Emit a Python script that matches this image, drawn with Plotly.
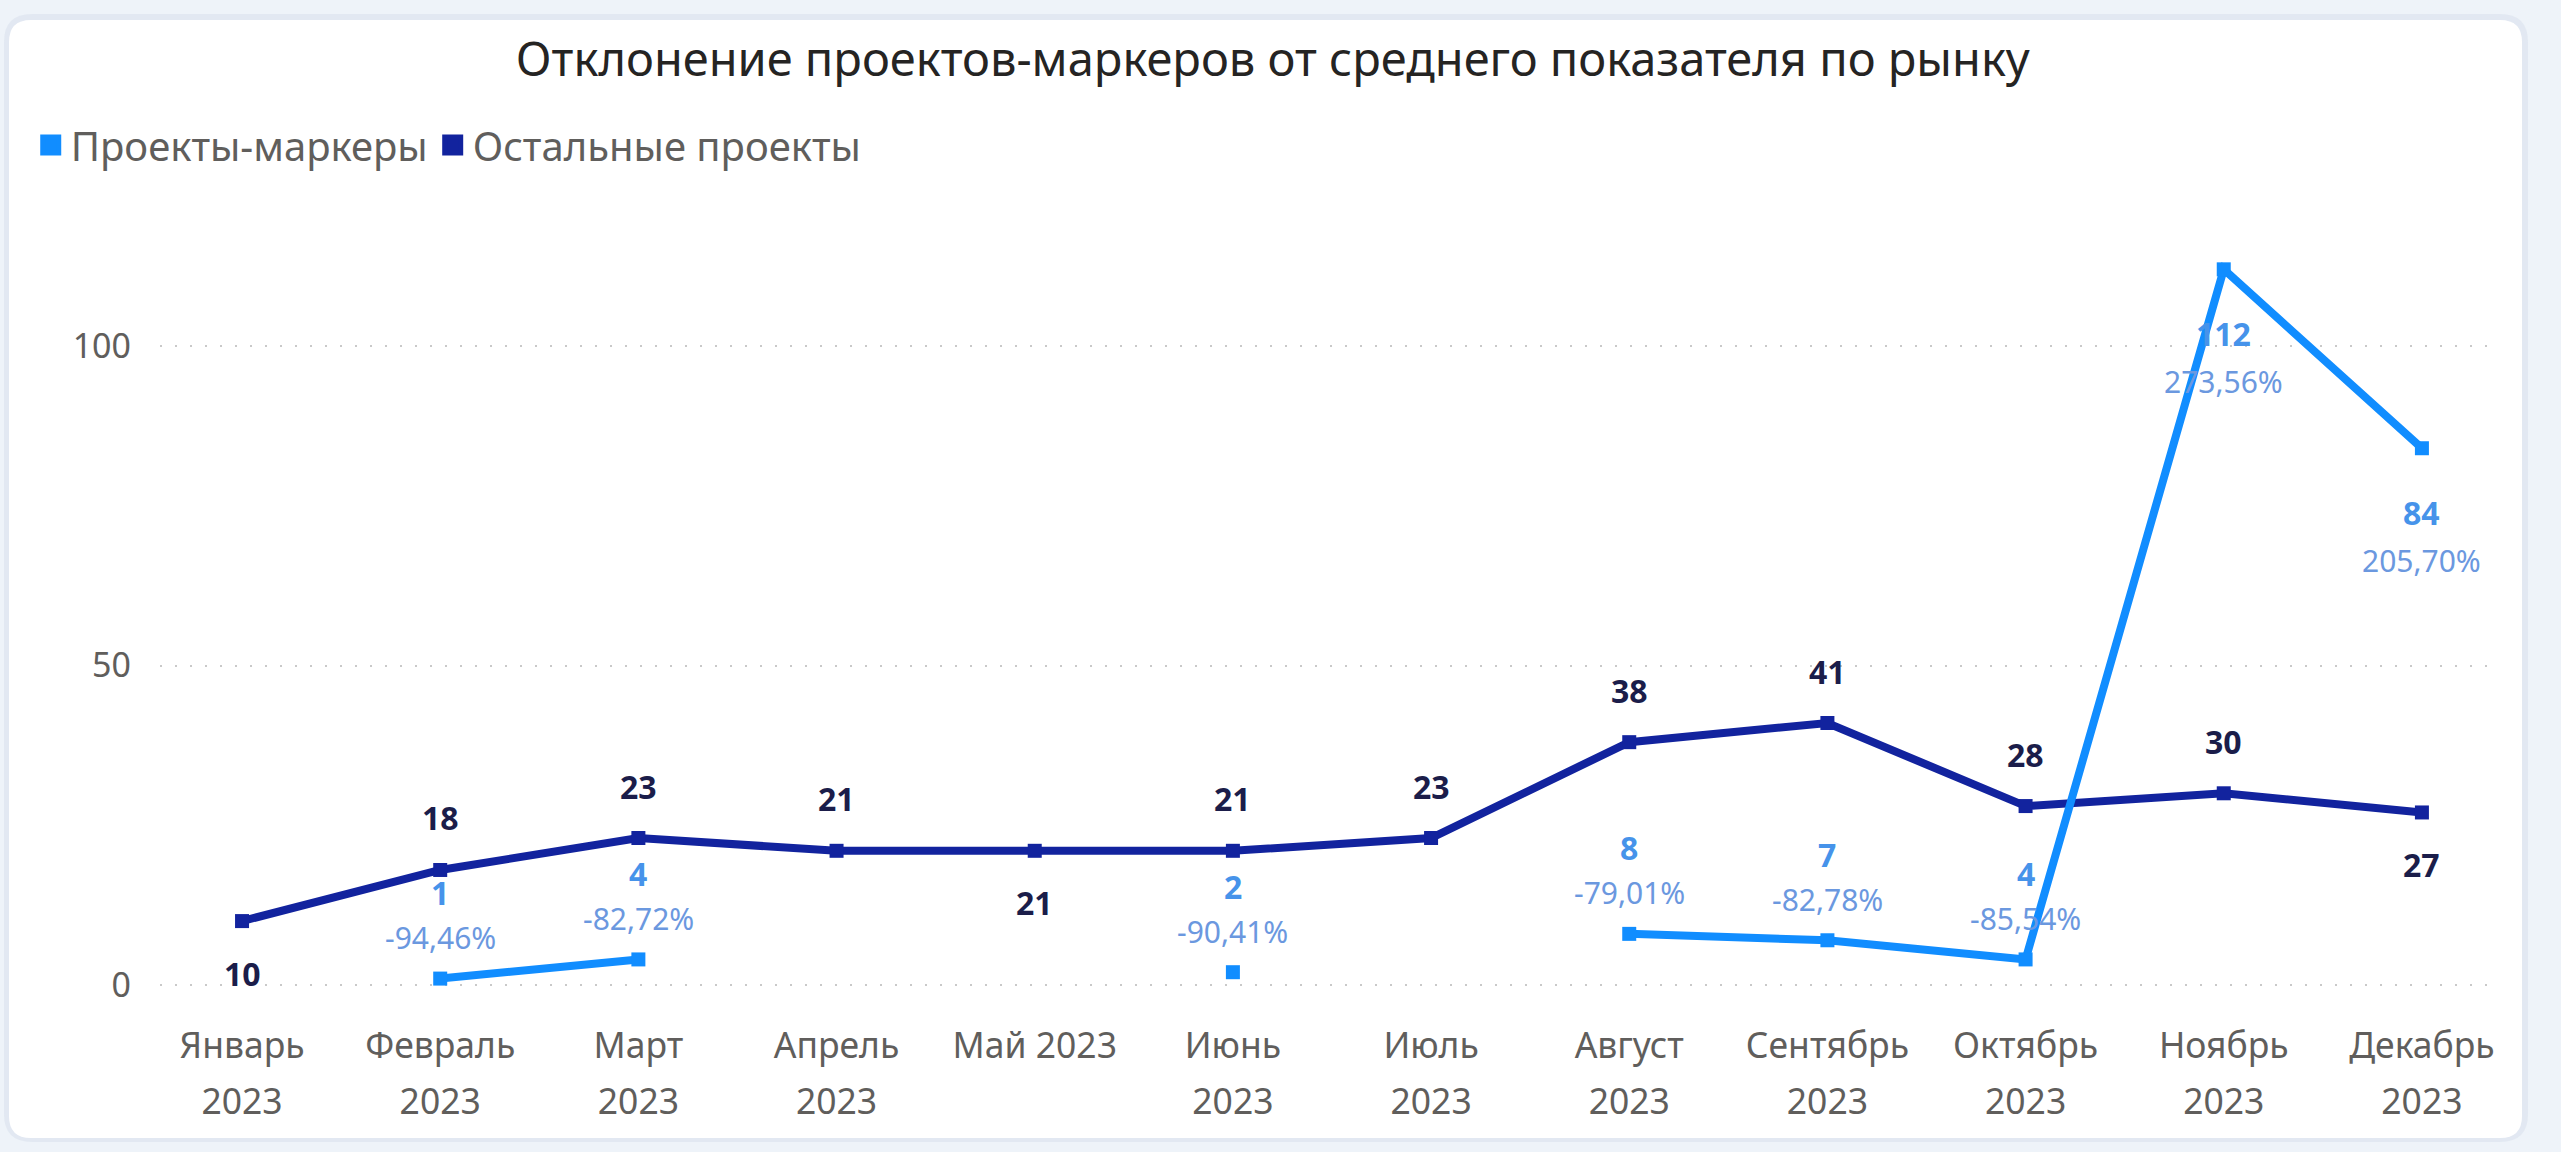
import plotly.graph_objects as go

# --- data -------------------------------------------------------------------
periods = ["Январь 2023", "Февраль 2023", "Март 2023", "Апрель 2023", "Май 2023",
           "Июнь 2023", "Июль 2023", "Август 2023", "Сентябрь 2023", "Октябрь 2023",
           "Ноябрь 2023", "Декабрь 2023"]
month_labels = ["Январь", "Февраль", "Март", "Апрель", "Май 2023", "Июнь", "Июль",
                "Август", "Сентябрь", "Октябрь", "Ноябрь", "Декабрь"]
year_labels = ["2023", "2023", "2023", "2023", "", "2023", "2023",
               "2023", "2023", "2023", "2023", "2023"]

marker_projects = [None, 1, 4, None, None, 2, None, 8, 7, 4, 112, 84]
marker_deviation_pct = [None, -94.46, -82.72, None, None, -90.41, None,
                        -79.01, -82.78, -85.54, 273.56, 205.70]
other_projects = [10, 18, 23, 21, 21, 21, 23, 38, 41, 28, 30, 27]

y_ticks = [0, 50, 100]

# label placement relative to each point
other_label_side = ["below", "above", "above", "above", "below", "above",
                    "above", "above", "above", "above", "above", "below"]
marker_label_side = [None, "above", "above", None, None, "above", None,
                     "above", "above", "above", "below", "below"]

# --- styling ----------------------------------------------------------------
W, H = 2561, 1152
L, R, T, B = 160, 61, 200, 152
PW, PH = W - L - R, H - T - B

FONT = "Noto Sans"
C_LIGHT = "#118DFF"
C_DARK = "#12239E"
C_DARK_LABEL = "#1b1d4a"
C_LIGHT_NUM = "#4693ea"
C_LIGHT_PCT = "#6b98df"
C_AXIS = "#605E5C"
PAGE_BG = "#eef3f9"


def fx(px):
    return (px - L) / PW


def fy(py):
    return (H - B - py) / PH


def rounded_rect(x0, y0, x1, y1, r):
    pts = [
        f"M{fx(x0 + r)},{fy(y0)}",
        f"L{fx(x1 - r)},{fy(y0)}",
        f"Q{fx(x1)},{fy(y0)} {fx(x1)},{fy(y0 + r)}",
        f"L{fx(x1)},{fy(y1 - r)}",
        f"Q{fx(x1)},{fy(y1)} {fx(x1 - r)},{fy(y1)}",
        f"L{fx(x0 + r)},{fy(y1)}",
        f"Q{fx(x0)},{fy(y1)} {fx(x0)},{fy(y1 - r)}",
        f"L{fx(x0)},{fy(y0 + r)}",
        f"Q{fx(x0)},{fy(y0)} {fx(x0 + r)},{fy(y0)}",
        "Z",
    ]
    return " ".join(pts)


fig = go.Figure()

# main series
fig.add_trace(go.Scatter(
    x=periods, y=other_projects, mode="lines+markers",
    line=dict(color=C_DARK, width=8),
    marker=dict(symbol="square", size=14, color=C_DARK),
    showlegend=False, hoverinfo="skip",
))
fig.add_trace(go.Scatter(
    x=periods, y=marker_projects, mode="lines+markers", connectgaps=False,
    line=dict(color=C_LIGHT, width=8),
    marker=dict(symbol="square", size=14, color=C_LIGHT),
    showlegend=False, hoverinfo="skip",
))

# legend entries with square swatches
for name, color in [("Проекты-маркеры", C_LIGHT), ("Остальные проекты", C_DARK)]:
    fig.add_trace(go.Scatter(
        x=[None], y=[None], mode="markers", name=name,
        marker=dict(symbol="square", size=16, color=color,
                    line=dict(color=color, width=5)),
        hoverinfo="skip",
    ))

# years on a second, overlaid x axis (second line of each tick label)
fig.add_trace(go.Scatter(
    x=list(range(len(periods))), y=[None] * len(periods), xaxis="x2",
    mode="markers", showlegend=False, hoverinfo="skip",
))

annotations = []
for p, v, side in zip(periods, other_projects, other_label_side):
    annotations.append(dict(
        x=p, y=v, xref="x", yref="y", showarrow=False,
        text=f"<b>{v}</b>", yshift=52 if side == "above" else -52,
        font=dict(family=FONT, size=32, color=C_DARK_LABEL),
    ))

for p, v, pct, side in zip(periods, marker_projects, marker_deviation_pct, marker_label_side):
    if v is None:
        continue
    pct_text = f"{pct:.2f}".replace(".", ",") + "%"
    if side == "above":
        num_shift, pct_shift = 86, 41
    else:
        num_shift, pct_shift = -64, -112
    annotations.append(dict(
        x=p, y=v, xref="x", yref="y", showarrow=False,
        text=f"<b>{v}</b>", yshift=num_shift,
        font=dict(family=FONT, size=32, color=C_LIGHT_NUM),
    ))
    annotations.append(dict(
        x=p, y=v, xref="x", yref="y", showarrow=False,
        text=pct_text, yshift=pct_shift,
        font=dict(family=FONT, size=30, color=C_LIGHT_PCT),
    ))

x_range = [-0.414, 11.394]
y_range = [-2.35, 122.85]

fig.update_layout(
    width=W, height=H,
    margin=dict(l=L, r=R, t=T, b=B),
    paper_bgcolor=PAGE_BG,
    plot_bgcolor="rgba(0,0,0,0)",
    font=dict(family=FONT, color=C_AXIS),
    title=dict(
        text="Отклонение проектов-маркеров от среднего показателя по рынку",
        x=0.497, xref="container", xanchor="center",
        y=1 - 60 / H, yref="container", yanchor="middle",
        font=dict(family=FONT, size=47, color="#252423"),
    ),
    legend=dict(
        orientation="h", xref="container", yref="container",
        x=0.012, xanchor="left", y=1 - 145 / H, yanchor="middle",
        font=dict(family=FONT, size=40, color=C_AXIS),
        bgcolor="rgba(0,0,0,0)", itemwidth=30, tracegroupgap=0,
    ),
    xaxis=dict(
        type="category", categoryorder="array", categoryarray=periods,
        range=x_range, tickmode="array", tickvals=periods, ticktext=month_labels,
        showgrid=False, zeroline=False, showline=False, ticks="",
        tickfont=dict(family=FONT, size=35.5, color=C_AXIS),
        ticklabelstandoff=21,
    ),
    xaxis2=dict(
        overlaying="x", anchor="y", side="bottom", range=x_range,
        tickmode="array", tickvals=list(range(len(periods))), ticktext=year_labels,
        showgrid=False, zeroline=False, showline=False, ticks="",
        tickfont=dict(family=FONT, size=35.5, color=C_AXIS),
        ticklabelstandoff=77,
    ),
    yaxis=dict(
        range=y_range, tickmode="array", tickvals=y_ticks,
        showgrid=True, gridcolor="#c9c9c9", gridwidth=2, griddash="2px,13px",
        zeroline=False, showline=False, ticks="",
        tickfont=dict(family=FONT, size=34, color=C_AXIS),
        ticklabelstandoff=28,
    ),
    annotations=annotations,
    shapes=[
        dict(type="path", xref="paper", yref="paper", layer="below",
             path=rounded_rect(4, 14, 2528, 1142, 28),
             fillcolor="rgba(200,210,225,0.3)", line=dict(width=0)),
        dict(type="path", xref="paper", yref="paper", layer="below",
             path=rounded_rect(9, 20, 2522, 1138, 22),
             fillcolor="#ffffff", line=dict(width=0)),
    ],
    hovermode=False,
)

fig.write_html("out.html", config={"displayModeBar": False})
